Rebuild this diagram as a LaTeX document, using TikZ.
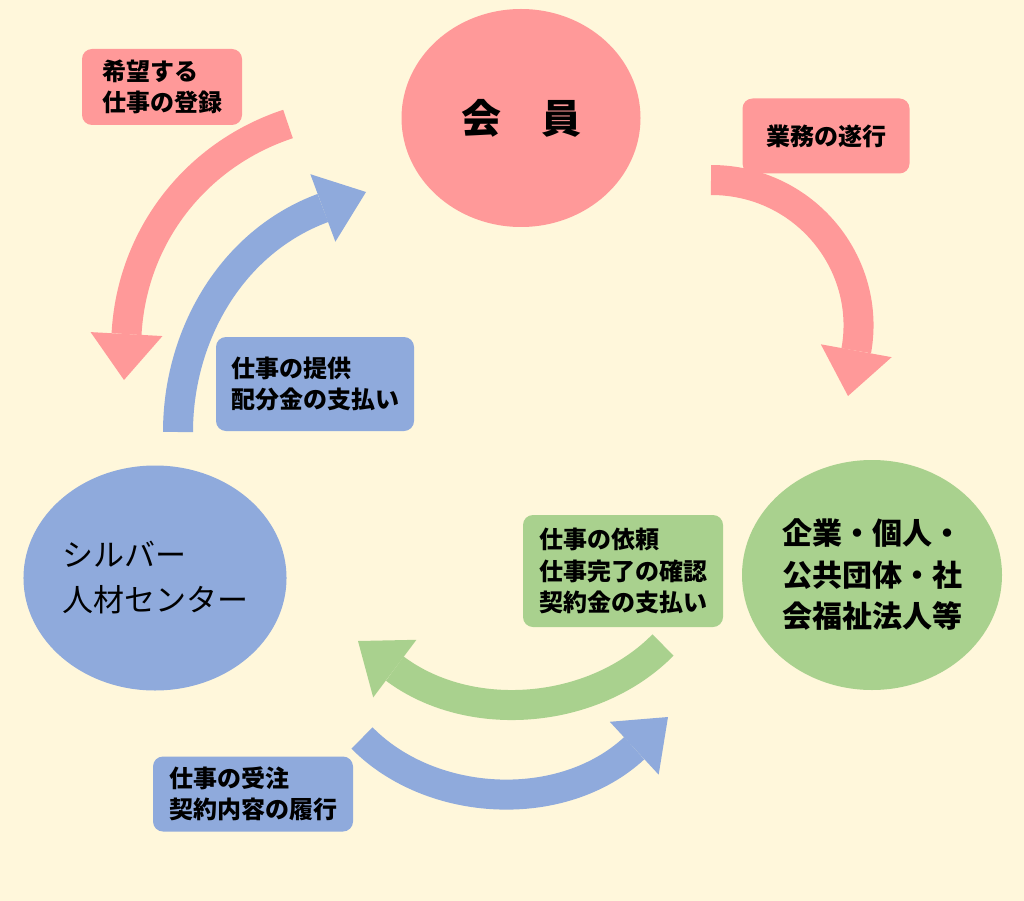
\documentclass[tikz,border=0pt]{standalone}
\usepackage{fontspec}
\setmainfont{Noto Sans CJK JP}
\usetikzlibrary{arrows.meta, shapes.geometric}

\definecolor{bgcream}{HTML}{FFF7DB}
\definecolor{pinkfill}{HTML}{FF9999}
\definecolor{bluefill}{HTML}{8FAADC}
\definecolor{greenfill}{HTML}{A9D18E}

\begin{document}
\begin{tikzpicture}[x=1pt, y=-1pt,
        mem/.style={ellipse, fill=pinkfill, minimum width=239pt, minimum height=218pt,
                    inner sep=0pt, font=\fontsize{40}{48}\selectfont\bfseries},
        ctr/.style={ellipse, fill=bluefill, minimum width=260pt, minimum height=225pt,
                    inner sep=0pt, align=left, font=\fontsize{31}{45}\selectfont},
        cli/.style={ellipse, fill=greenfill, minimum width=260pt, minimum height=230pt,
                    inner sep=0pt, align=left, font=\fontsize{30}{41.5}\selectfont\bfseries},
        lbl/.style={rectangle, rounded corners=10pt, inner sep=0pt, align=left,
                    font=\fontsize{24}{31.5}\selectfont\bfseries},
        arr/.style={line width=30pt,
                    -{Triangle[length=46pt, width=72pt, line width=0pt]}}]
      \useasboundingbox (0,0) rectangle (1024,901);
      \fill[bgcream] (0,0) rectangle (1024,901);

      % the three parties
      \node[mem] (kaiin) at (521,118) {会　員};
      \node[ctr] (center) at (155,578) {シルバー\\人材センター};
      \node[cli] (client) at (872,575) {企業・個人・\\公共団体・社\\会福祉法人等};

      % free ends of the curved arrows
      \coordinate (reg0) at (288,124);  \coordinate (reg1) at (124,380);
      \coordinate (job0) at (178,432);  \coordinate (job1) at (366,192);
      \coordinate (work0) at (711,180); \coordinate (work1) at (848,396);
      \coordinate (ord0) at (663,645);  \coordinate (ord1) at (358,641);
      \coordinate (acc0) at (362,738);  \coordinate (acc1) at (668,717);

      \draw[arr, pinkfill] (reg0) .. controls +(-91,30) and +(8,-145) .. (reg1);
      \draw[arr, bluefill] (job0) .. controls +(0,-96) and +(-135,50) .. (job1);
      \draw[arr, pinkfill] (work0) .. controls +(94,0) and +(24,-132) .. (work1);
      \draw[arr, greenfill] (ord0) .. controls +(-69,70) and +(112,84) .. (ord1);
      \draw[arr, bluefill] (acc0) .. controls +(69,70) and +(-106,98) .. (acc1);

      % labels
      \node[lbl, fill=pinkfill, minimum width=160pt, minimum height=76pt] (regl) at (162,87)
            {希望する\\仕事の登録};
      \node[lbl, fill=pinkfill, minimum width=167pt, minimum height=75pt] (workl) at (826,136)
            {業務の遂行};
      \node[lbl, fill=bluefill, minimum width=198pt, minimum height=94pt] (jobl) at (315,384)
            {仕事の提供\\配分金の支払い};
      \node[lbl, fill=greenfill, minimum width=200pt, minimum height=112pt] (ordl) at (623,571)
            {仕事の依頼\\仕事完了の確認\\契約金の支払い};
      \node[lbl, fill=bluefill, minimum width=200pt, minimum height=75pt] (accl) at (253,794)
            {仕事の受注\\契約内容の履行};
    \end{tikzpicture}
\end{document}
